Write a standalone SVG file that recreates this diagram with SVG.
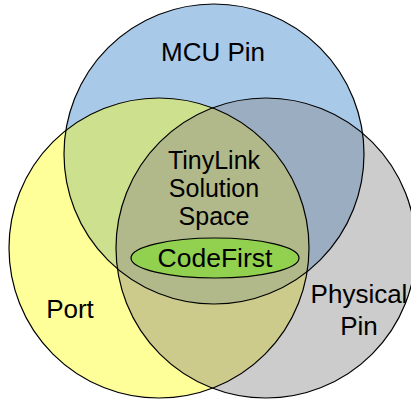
<svg xmlns="http://www.w3.org/2000/svg" width="411" height="401" viewBox="0 0 411 401">
  <style>
    .ring { fill: none; stroke: #000; stroke-width: 1.2; }
    .label { font-family: "Liberation Sans", Arial, sans-serif; font-size: 26px; fill: #000; text-anchor: middle; }
    .stack { font-size: 25px; }
  </style>
  <defs>
    <circle id="cMcu" cx="214" cy="154" r="150"/>
    <circle id="cPort" cx="159" cy="248" r="150"/>
    <circle id="cPhys" cx="266" cy="248" r="150"/>
    <clipPath id="clipMcu"><use href="#cMcu"/></clipPath>
    <clipPath id="clipPort"><use href="#cPort"/></clipPath>
    <clipPath id="clipPhys"><use href="#cPhys"/></clipPath>
  </defs>
  <rect width="411" height="401" fill="#ffffff"/>

  <!-- base sets -->
  <g id="mcu-pin">
    <use href="#cMcu" fill="#a9c9e9"/>
  </g>
  <g id="port">
    <use href="#cPort" fill="#ffff99"/>
  </g>
  <g id="physical-pin">
    <use href="#cPhys" fill="#cccccc"/>
  </g>

  <!-- pairwise and triple overlaps -->
  <g id="overlaps">
    <g clip-path="url(#clipMcu)"><use href="#cPort" fill="#cde08e"/></g>
    <g clip-path="url(#clipMcu)"><use href="#cPhys" fill="#9badc1"/></g>
    <g clip-path="url(#clipPort)"><use href="#cPhys" fill="#cccb8b"/></g>
    <g clip-path="url(#clipMcu)"><g clip-path="url(#clipPort)"><use href="#cPhys" fill="#b1b98a"/></g></g>
  </g>

  <!-- outlines -->
  <g id="outlines">
    <use href="#cMcu" class="ring"/>
    <use href="#cPort" class="ring"/>
    <use href="#cPhys" class="ring"/>
  </g>

  <g id="solution-space">
    <text class="label stack" x="214" y="169">TinyLink</text>
    <text class="label stack" x="214" y="197">Solution</text>
    <text class="label stack" x="214" y="225">Space</text>
  </g>

  <g id="codefirst">
    <ellipse cx="215" cy="258" rx="84" ry="20" fill="#92d050" stroke="#000" stroke-width="1.2"/>
    <text class="label" x="215" y="267" style="font-size:26.5px">CodeFirst</text>
  </g>

  <text class="label" x="213" y="61">MCU Pin</text>
  <text class="label" x="70" y="318">Port</text>
  <text class="label" x="359" y="303">Physical</text>
  <text class="label" x="359" y="335">Pin</text>
</svg>
